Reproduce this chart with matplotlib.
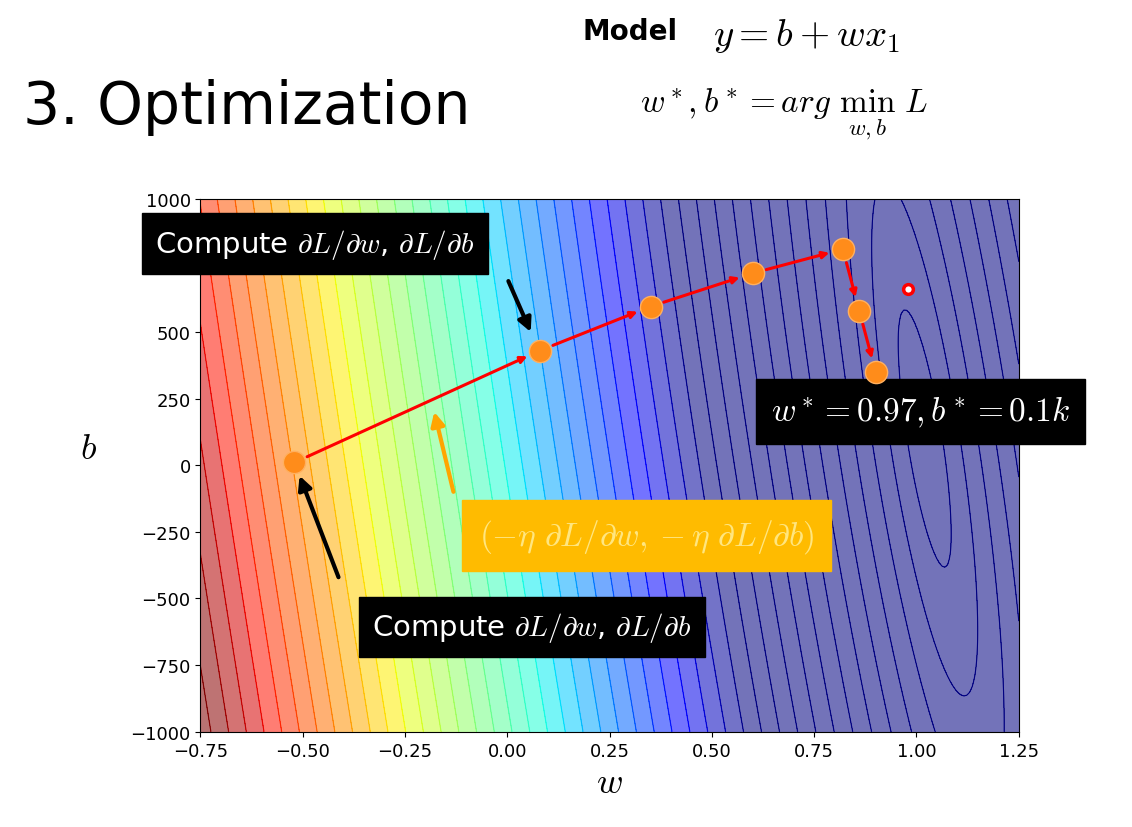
# Importing all necessary libraries
import numpy as np
from matplotlib import pyplot as plt

plt.rcParams['mathtext.fontset'] = 'cm'

# loss surface
w = np.linspace(-0.75, 1.25, 300)
b = np.linspace(-1000, 1000, 300)
W, B = np.meshgrid(w, b)
u = (W - 1.02) + (B - 100) * 0.0001
L = np.sqrt(u**2 + 8e-9 * (B - 100)**2)

# gradient descent path
path_w = [-0.52, 0.08, 0.35, 0.60, 0.82, 0.86, 0.90]
path_b = [10, 430, 595, 720, 810, 580, 350]

fig = plt.figure(figsize=(11.32, 8.28), dpi=100)
ax = fig.add_axes([0.177, 0.115, 0.723, 0.644])

levels = np.linspace(0, 1.9, 45)
ax.contourf(W, B, L, levels=levels, cmap='jet', alpha=0.55, vmin=0.55, vmax=1.85)
ax.contour(W, B, L, levels=levels, cmap='jet', linewidths=0.8, vmin=0.55, vmax=1.85)

# arrows between steps
for i in range(len(path_w) - 1):
    ax.annotate('', xy=(path_w[i+1], path_b[i+1]), xytext=(path_w[i], path_b[i]),
                arrowprops=dict(arrowstyle='-|>', color='red', lw=2.2, shrinkA=10, shrinkB=10))
ax.plot(path_w, path_b, 'o', color='#ff8c1a', markersize=16, markeredgecolor='#ffb060', zorder=5)
ax.plot(0.98, 660, 'o', color='white', markersize=7, markeredgecolor='red', markeredgewidth=2.5, zorder=5)

ax.set_xlim(-0.75, 1.25)
ax.set_ylim(-1000, 1000)
ax.set_xticks([-0.75, -0.5, -0.25, 0, 0.25, 0.5, 0.75, 1.0, 1.25])
ax.set_yticks([-1000, -750, -500, -250, 0, 250, 500, 750, 1000])
ax.tick_params(labelsize=13)
ax.set_xlabel('$w$', fontsize=26)
ax.set_ylabel('$b$', fontsize=26, rotation=0, labelpad=30)

# annotation boxes
black = dict(boxstyle='square,pad=0.45', fc='black', ec='black')
ax.text(-0.47, 831, r'Compute $\partial L/\partial w$, $\partial L/\partial b$', fontsize=21,
        color='white', bbox=black, ha='center', va='center', zorder=10)
ax.text(0.06, -606, r'Compute $\partial L/\partial w$, $\partial L/\partial b$', fontsize=21,
        color='white', bbox=black, ha='center', va='center', zorder=10)
ax.text(1.01, 200, r'$w^* = 0.97, b^* = 0.1k$', fontsize=24,
        color='white', bbox=black, ha='center', va='center', zorder=4)
ax.text(0.34, -265, r'$(-\eta\ \partial L/\partial w, -\eta\ \partial L/\partial b)$', fontsize=24,
        color='#ffe680', bbox=dict(boxstyle='square,pad=0.5', fc='#ffbb00', ec='#ffbb00'),
        ha='center', va='center', zorder=10)
ax.annotate('', xy=(0.06, 490), xytext=(0.0, 700),
            arrowprops=dict(arrowstyle='-|>', color='black', lw=3, mutation_scale=20))
ax.annotate('', xy=(-0.51, -30), xytext=(-0.41, -430),
            arrowprops=dict(arrowstyle='-|>', color='black', lw=3, mutation_scale=20))
ax.annotate('', xy=(-0.18, 210), xytext=(-0.13, -110),
            arrowprops=dict(arrowstyle='-|>', color='orange', lw=3, mutation_scale=20))

# slide titles
fig.text(0.02, 0.85, '3. Optimization', fontsize=42)
fig.text(0.515, 0.952, 'Model', fontsize=20, fontweight='bold')
fig.text(0.63, 0.945, '$y = b + wx_1$', fontsize=28)
fig.text(0.565, 0.865, r'$w^*, b^* = arg\ \min_{w,b}\ L$', fontsize=24)

plt.savefig('out.png')
